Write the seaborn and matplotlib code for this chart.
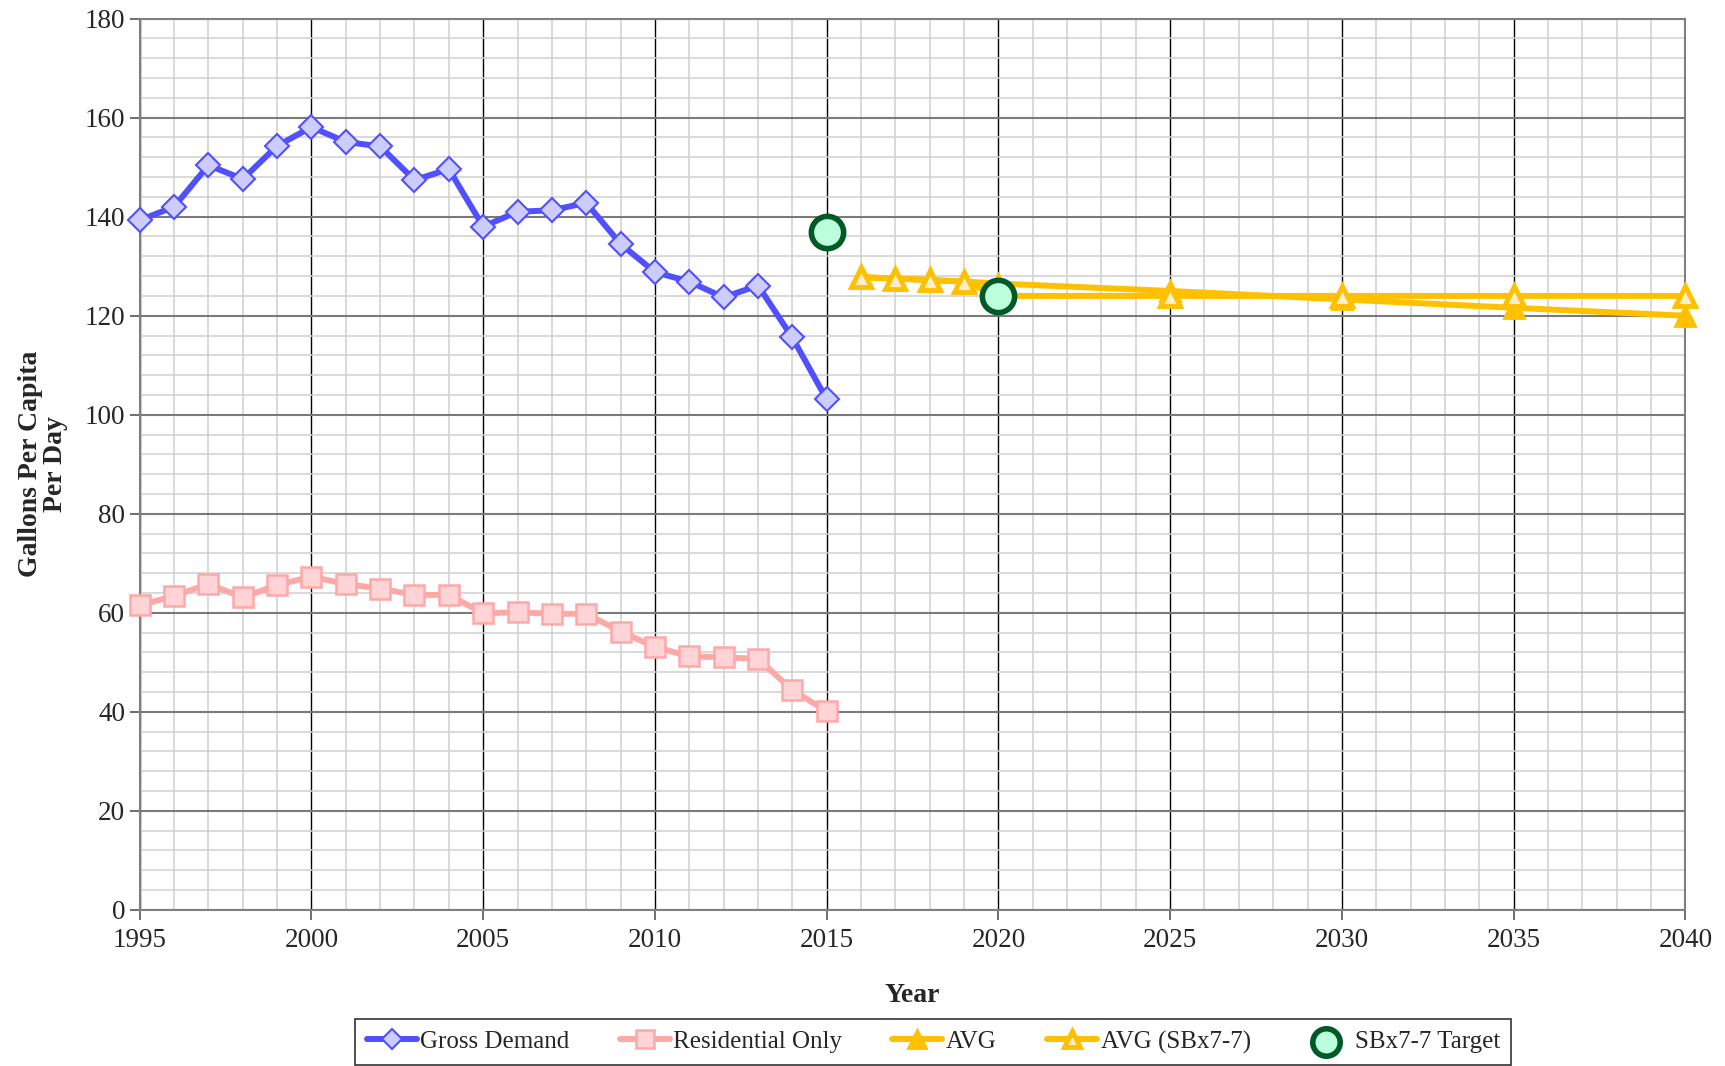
import numpy as np
import pandas as pd
import matplotlib
matplotlib.use("Agg")
import matplotlib.pyplot as plt
from matplotlib.ticker import MultipleLocator
import seaborn as sns

# historical data
hist_years = list(range(1995, 2016))
gross_demand = [139.3, 142.0, 150.4, 147.6, 154.3, 158.1, 155.1, 154.2, 147.4, 149.6,
                138.0, 141.0, 141.3, 142.8, 134.5, 128.8, 126.9, 123.7, 126.1, 115.6, 103.1]
residential = [61.5, 63.4, 65.8, 63.1, 65.6, 67.3, 65.8, 64.9, 63.6, 63.6,
               59.9, 60.1, 59.8, 59.8, 56.2, 53.1, 51.2, 51.0, 50.7, 44.4, 40.1]

# projections
proj_years = [2016, 2017, 2018, 2019, 2020, 2025, 2030, 2035, 2040]
avg = [127.8, 127.5, 127.2, 126.9, 126.5, 125.0, 123.3, 121.6, 120.0]
avg_sbx = [127.8, 127.5, 127.2, 126.9, 124.0, 124.0, 124.0, 124.0, 124.0]

target_years = [2015, 2020]
target = [137.0, 124.0]

sns.set_style("white")
plt.rcParams["font.family"] = ["Liberation Serif", "DejaVu Serif"]

fig, ax = plt.subplots(figsize=(17.25, 10.66), dpi=100)
fig.subplots_adjust(left=0.081, right=0.977, top=0.9825, bottom=0.1465)

blue = "#5050ff"
pink = "#ffa8a8"
gold = "#ffc000"

sns.lineplot(x=hist_years, y=gross_demand, ax=ax, color=blue, lw=4.3,
             marker="D", markersize=12, markerfacecolor="#ccccff",
             markeredgecolor=blue, markeredgewidth=1.5, label="Gross Demand",
             zorder=4, clip_on=False)
sns.lineplot(x=hist_years, y=residential, ax=ax, color=pink, lw=4.3,
             marker="s", markersize=14.5, markerfacecolor="#ffd4d6",
             markeredgecolor=pink, markeredgewidth=1.8, label="Residential Only",
             zorder=4, clip_on=False)
sns.lineplot(x=proj_years, y=avg, ax=ax, color=gold, lw=4.3,
             marker="^", markersize=15, markerfacecolor=gold,
             markeredgecolor=gold, markeredgewidth=2, label="AVG",
             zorder=4, clip_on=False)
sns.lineplot(x=proj_years, y=avg_sbx, ax=ax, color=gold, lw=4.3,
             marker="^", markersize=14, markerfacecolor="#ffeecc",
             markeredgecolor=gold, markeredgewidth=3.5, label="AVG (SBx7-7)",
             zorder=5, clip_on=False)
sns.scatterplot(x=target_years, y=target, ax=ax, s=540, color="#bbffdd",
                edgecolor="#005a28", linewidth=4, label="SBx7-7 Target",
                zorder=6, clip_on=False)

ax.set_xlim(1995, 2040)
ax.set_ylim(0, 180)
ax.xaxis.set_major_locator(MultipleLocator(5))
ax.xaxis.set_minor_locator(MultipleLocator(1))
ax.yaxis.set_major_locator(MultipleLocator(20))
ax.yaxis.set_minor_locator(MultipleLocator(4))

ax.grid(which="minor", color="#d0d0d0", lw=1.1, zorder=0)
ax.grid(which="major", axis="y", color="#7a7a7a", lw=1.5, zorder=1)
ax.grid(which="major", axis="x", color="#000000", lw=1.0, zorder=1)
ax.set_axisbelow(True)

for side in ["left", "bottom", "top", "right"]:
    ax.spines[side].set_color("#808080")
    ax.spines[side].set_linewidth(1.5)

ax.tick_params(axis="both", which="major", labelsize=19.5, length=7, width=1.2,
               color="#555555", direction="out", left=True, bottom=True)
ax.tick_params(axis="both", which="minor", length=0)
ax.tick_params(axis="x", pad=6)

ax.set_xlabel("Year", fontsize=20, fontweight="bold", labelpad=22)
ax.set_ylabel("Gallons Per Capita\nPer Day", fontsize=20, fontweight="bold",
              labelpad=12, linespacing=1.0)

handles, labels = ax.get_legend_handles_labels()
ax.get_legend().remove()
leg = fig.legend(handles, labels, loc="center", bbox_to_anchor=(0.541, 0.0225),
                 ncol=5, fontsize=18, frameon=True, fancybox=False,
                 edgecolor="black", columnspacing=2.0, handlelength=2.0,
                 handletextpad=0.15, borderpad=0.45, markerscale=0.85)
leg.get_frame().set_linewidth(1.2)

fig.savefig("out.png", dpi=100)
